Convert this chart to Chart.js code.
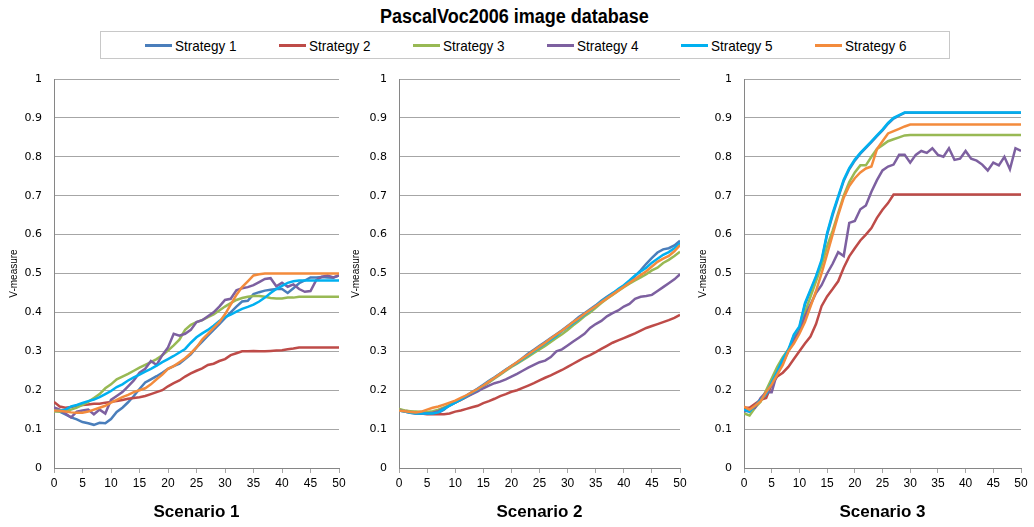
<!DOCTYPE html>
<html>
<head>
<meta charset="utf-8">
<script src="https://cdn.jsdelivr.net/npm/chart.js@4.4.0/dist/chart.umd.min.js"></script>
<style>
  body { margin: 0; background: #fff; width: 1034px; height: 527px; position: relative; overflow: hidden;
         font-family: 'Liberation Sans', sans-serif; color: #000; }
  #title { position: absolute; left: 0; top: 5px; width: 1028px; text-align: center; }
  #title span { display: inline-block; font-weight: bold; font-size: 20px; transform: scaleX(0.9); }
  #legend { position: absolute; left: 100px; top: 31px; width: 850px; height: 28px; box-sizing: border-box;
            border: 1px solid #c8c8c8; display: flex; align-items: center; padding-left: 44px; }
  .item { width: 135px; display: flex; align-items: center; font-size: 15px; white-space: nowrap; }
  .item span.txt { display: inline-block; transform: scaleX(0.9); transform-origin: left center; }
  .swatch { width: 27px; height: 3px; margin-right: 3px; }
  canvas { position: absolute; top: 60px; }
</style>
</head>
<body>
<div id="title"><span>PascalVoc2006 image database</span></div>
<div id="legend"></div>
<canvas id="c1" width="352" height="467" style="left:0px"></canvas>
<canvas id="c2" width="352" height="467" style="left:345px"></canvas>
<canvas id="c3" width="344" height="467" style="left:690px"></canvas>
<script>
// iterations 0..50
const steps = [0,1,2,3,4,5,6,7,8,9,10,11,12,13,14,15,16,17,18,19,20,21,22,23,24,25,
  26,27,28,29,30,31,32,33,34,35,36,37,38,39,40,41,42,43,44,45,46,47,48,49,50];

const strategy_names = ['Strategy 1', 'Strategy 2', 'Strategy 3', 'Strategy 4', 'Strategy 5', 'Strategy 6'];
const strategy_colors = ['#4a7ebb', '#be4b48', '#98b954', '#7d60a0', '#00b0f0', '#f38b3c'];
const y_ticks = [0, 0.1, 0.2, 0.3, 0.4, 0.5, 0.6, 0.7, 0.8, 0.9, 1];

// Scenario 1
const sc1_s1 = [.148,.145,.138,.13,.125,.118,.115,.111,.116,.115, .126,.144,.155,.169,.185,.203,.22,.228,.236,.245,
  .255,.262,.268,.28,.292,.31,.325,.34,.355,.37, .385,.4,.415,.428,.43,.447,.452,.456,.458,.46,
  .46,.45,.462,.475,.482,.49,.49,.491,.49,.489,.495];
const sc1_s2 = [.17,.158,.155,.157,.16,.162,.163,.165,.165,.168, .17,.172,.175,.178,.18,.182,.185,.19,.195,.2,
  .21,.218,.225,.235,.243,.25,.256,.265,.268,.275, .28,.29,.295,.3,.3,.301,.3,.3,.301,.302,
  .303,.305,.307,.31,.31,.31,.31,.31,.31,.31,.31];
const sc1_s3 = [.145,.145,.147,.15,.155,.162,.17,.18,.19,.205, .215,.228,.235,.242,.25,.258,.265,.272,.28,.29,
  .302,.315,.33,.355,.368,.375,.38,.388,.395,.405, .415,.424,.432,.437,.44,.442,.442,.44,.437,.436,
  .436,.438,.438,.44,.44,.44,.44,.44,.44,.44,.44];
const sc1_s4 = [.156,.15,.14,.13,.145,.148,.15,.138,.15,.14, .175,.185,.195,.21,.225,.245,.255,.275,.265,.29,
  .31,.345,.34,.345,.355,.375,.38,.39,.4,.415, .432,.435,.457,.462,.465,.47,.478,.486,.488,.467,
  .476,.466,.472,.46,.453,.455,.483,.492,.495,.49,.495];
const sc1_s5 = [.148,.148,.15,.158,.162,.167,.172,.176,.182,.19, .198,.208,.215,.225,.233,.24,.248,.255,.263,.272,
  .28,.288,.297,.306,.322,.336,.346,.355,.366,.378, .388,.394,.402,.409,.414,.42,.428,.438,.45,.46,
  .468,.476,.48,.482,.482,.482,.482,.482,.482,.482,.482];
const sc1_s6 = [.148,.147,.145,.143,.142,.142,.145,.15,.155,.16, .168,.175,.182,.188,.195,.2,.205,.215,.228,.24,
  .255,.262,.272,.282,.295,.31,.33,.345,.36,.375, .395,.42,.445,.465,.48,.495,.498,.5,.5,.5,
  .5,.5,.5,.5,.5,.5,.5,.5,.5,.5,.5];

// Scenario 2
const sc2_s1 = [.15,.146,.143,.141,.14,.14,.14,.142,.15,.162, .17,.177,.186,.195,.204,.214,.224,.233,.243,.253,
  .262,.272,.283,.294,.304,.314,.324,.334,.344,.354, .365,.376,.388,.398,.408,.418,.43,.44,.45,.458,
  .468,.48,.493,.508,.525,.54,.554,.562,.565,.572,.584];
const sc2_s2 = [.15,.147,.145,.143,.14,.138,.138,.138,.138,.14, .145,.148,.152,.156,.16,.167,.172,.178,.185,.19,
  .196,.2,.206,.212,.218,.225,.232,.238,.245,.252, .26,.268,.276,.284,.29,.298,.306,.314,.322,.328,
  .334,.34,.346,.353,.36,.365,.37,.375,.38,.386,.394];
const sc2_s3 = [.152,.148,.146,.145,.144,.144,.146,.15,.156,.162, .168,.175,.183,.191,.2,.21,.22,.23,.24,.25,
  .26,.268,.277,.286,.296,.305,.314,.324,.334,.344, .355,.367,.378,.39,.4,.412,.424,.435,.445,.455,
  .465,.474,.482,.49,.498,.508,.515,.527,.535,.545,.556];
const sc2_s4 = [.148,.145,.142,.14,.14,.14,.142,.146,.153,.16, .168,.175,.183,.19,.197,.205,.212,.218,.222,.228,
  .235,.242,.25,.258,.265,.272,.276,.285,.3,.305, .315,.325,.335,.345,.36,.37,.378,.39,.398,.405,
  .415,.422,.435,.44,.442,.445,.455,.465,.475,.485,.498];
const sc2_s5 = [.148,.145,.142,.14,.14,.14,.14,.143,.152,.16, .168,.176,.185,.194,.202,.212,.222,.232,.242,.252,
  .262,.27,.28,.29,.3,.31,.32,.33,.34,.352, .362,.372,.383,.394,.405,.416,.428,.438,.448,.46,
  .47,.482,.495,.505,.515,.528,.538,.548,.555,.565,.578];
const sc2_s6 = [.148,.146,.144,.143,.145,.15,.155,.158,.163,.168, .173,.18,.187,.195,.203,.212,.222,.232,.242,.252,
  .262,.272,.282,.292,.302,.312,.322,.333,.343,.353, .364,.375,.385,.396,.406,.416,.426,.436,.446,.456,
  .466,.476,.486,.496,.506,.518,.53,.538,.545,.557,.573];

// Scenario 3
const sc3_s1 = [.148,.145,.158,.175,.19,.215,.245,.275,.3,.34, .36,.42,.455,.49,.53,.6,.65,.695,.738,.768,
  .79,.808,.823,.838,.853,.868,.885,.898,.906,.913, .913,.913,.913,.913,.913,.913,.913,.913,.913,.913,
  .913,.913,.913,.913,.913,.913,.913,.913,.913,.913,.913];
const sc3_s2 = [.155,.155,.165,.175,.18,.215,.235,.245,.26,.28, .3,.32,.338,.37,.416,.441,.46,.48,.515,.544,
  .565,.585,.6,.617,.643,.664,.681,.703,.703,.703, .703,.703,.703,.703,.703,.703,.703,.703,.703,.703,
  .703,.703,.703,.703,.703,.703,.703,.703,.703,.703,.703];
const sc3_s3 = [.14,.135,.155,.17,.2,.23,.26,.285,.305,.33, .355,.4,.44,.48,.52,.57,.61,.655,.7,.735,
  .76,.778,.778,.8,.82,.83,.84,.845,.85,.855, .856,.856,.856,.856,.856,.856,.856,.856,.856,.856,
  .856,.856,.856,.856,.856,.856,.856,.856,.856,.856,.856];
const sc3_s4 = [.145,.15,.155,.18,.195,.195,.245,.27,.3,.33, .35,.39,.42,.45,.47,.5,.525,.555,.545,.63,
  .635,.665,.675,.71,.74,.765,.775,.78,.805,.805, .785,.805,.815,.81,.822,.805,.8,.822,.792,.795,
  .815,.795,.79,.78,.765,.785,.778,.8,.768,.822,.815];
const sc3_s5 = [.15,.145,.16,.175,.19,.22,.248,.28,.304,.343, .364,.424,.458,.493,.535,.604,.655,.698,.741,.771,
  .793,.81,.825,.84,.855,.87,.887,.9,.907,.914, .914,.914,.914,.914,.914,.914,.914,.914,.914,.914,
  .914,.914,.914,.914,.914,.914,.914,.914,.914,.914,.914];
const sc3_s6 = [.158,.15,.16,.172,.195,.215,.24,.265,.3,.32, .345,.375,.415,.455,.5,.55,.6,.65,.695,.725,
  .745,.76,.77,.775,.82,.84,.86,.866,.872,.878, .883,.883,.883,.883,.883,.883,.883,.883,.883,.883,
  .883,.883,.883,.883,.883,.883,.883,.883,.883,.883,.883];

// legend (shared by the three panels)
const legend = document.getElementById('legend');
strategy_names.forEach((name, i) => {
  const item = document.createElement('div');
  item.className = 'item';
  item.innerHTML = `<span class="swatch" style="background:${strategy_colors[i]}"></span><span class="txt">${name}</span>`;
  legend.appendChild(item);
});

const axis_gray = '#a6a6a6';

function make_panel(canvas_id, series, scenario, title_pad, pad_right){
  const ctx = document.getElementById(canvas_id).getContext('2d');
  return new Chart(ctx, {
    type: 'line',
    data: {
      datasets: series.map((values, i) => ({
        label: strategy_names[i],
        data: steps.map((s, j) => ({x: s, y: values[j]})),
        borderColor: strategy_colors[i],
        borderWidth: 2.5,
        pointRadius: 0,
        tension: 0,
        fill: false,
        // Excel draws the last series on top
        order: series.length - i
      }))
    },
    options: {
      responsive: false,
      animation: false,
      layout: { padding: { left: 0, right: pad_right, top: 19, bottom: 0 } },
      plugins: { legend: { display: false }, tooltip: { enabled: false } },
      scales: {
        x: {
          type: 'linear', min: 0, max: 50,
          afterFit: (scale) => { scale.height = 59; },
          ticks: { stepSize: 5, padding: 3, color: '#000', maxRotation: 0,
                   font: { family: "'Liberation Sans'", size: 12 } },
          grid: { drawOnChartArea: false, drawTicks: true, tickLength: 5, color: axis_gray },
          border: { color: '#868686' },
          title: { display: true, text: scenario, color: '#000', padding: { top: 0, bottom: 4 },
                   font: { family: "'Liberation Sans'", size: 17, weight: 'bold' } }
        },
        y: {
          min: 0, max: 1,
          afterFit: (scale) => { scale.width = 54; },
          afterBuildTicks: (scale) => { scale.ticks = y_ticks.map(v => ({value: v})); },
          ticks: { padding: 12, color: '#000', callback: (v) => String(Math.round(v * 10) / 10),
                   font: { family: "'DejaVu Sans'", size: 11 } },
          grid: { drawTicks: false, color: axis_gray, lineWidth: 1 },
          border: { color: '#868686' },
          title: { display: true, text: 'V-measure', color: '#000', padding: { top: title_pad, bottom: 0 },
                   font: { family: "'Liberation Sans'", size: 10 } }
        }
      }
    }
  });
}

make_panel('c1', [sc1_s1, sc1_s2, sc1_s3, sc1_s4, sc1_s5, sc1_s6], 'Scenario 1', 8, 13);
make_panel('c2', [sc2_s1, sc2_s2, sc2_s3, sc2_s4, sc2_s5, sc2_s6], 'Scenario 2', 5, 17);
make_panel('c3', [sc3_s1, sc3_s2, sc3_s3, sc3_s4, sc3_s5, sc3_s6], 'Scenario 3', 7, 13);
</script>
</body>
</html>
